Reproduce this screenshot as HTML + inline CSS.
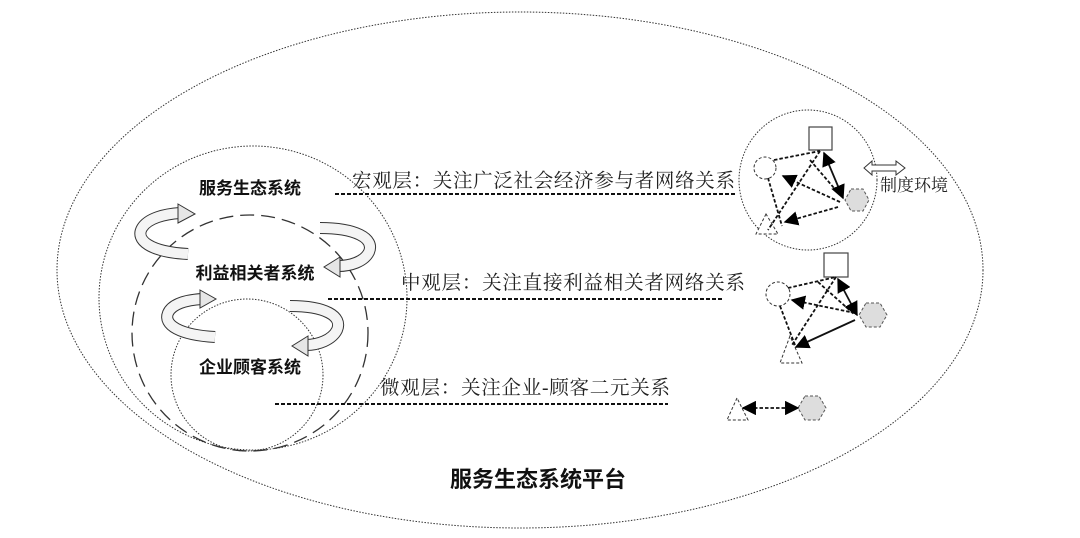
<!DOCTYPE html>
<html><head><meta charset="utf-8"><style>
html,body{margin:0;padding:0;background:#fff;width:1080px;height:538px;overflow:hidden}
svg{display:block}
text{font-family:"Liberation Serif","Noto Serif CJK SC","Noto Sans CJK SC",serif;fill:#222}
.b{font-family:"Liberation Sans","Noto Sans CJK SC",sans-serif;font-weight:bold;fill:#111}
</style></head><body>
<svg width="1080" height="538" viewBox="0 0 1080 538" xmlns="http://www.w3.org/2000/svg">
<defs>
<marker id="ah" viewBox="0 0 10 10" refX="9" refY="5" markerWidth="8" markerHeight="8" orient="auto-start-reverse"><path d="M0,0 L10,5 L0,10 z" fill="#000"/></marker>
</defs>
<g fill="none" stroke="#333" stroke-width="1" stroke-dasharray="1.5,1.5">
<ellipse cx="520" cy="270" rx="463" ry="258"/>
<ellipse cx="253" cy="298" rx="154" ry="152"/>
<ellipse cx="247" cy="375" rx="76" ry="76"/>
<ellipse cx="808" cy="180" rx="69" ry="70"/>
</g>
<ellipse cx="250" cy="333" rx="118" ry="118" fill="none" stroke="#333" stroke-width="1.3" stroke-dasharray="14,7"/>

<g stroke-linecap="butt">
<path d="M188,254 C150,252 135,240 142,228 C148,218 165,214 180,213" fill="none" stroke="#333" stroke-width="12"/>
<path d="M188,254 C150,252 135,240 142,228 C148,218 165,214 180,213" fill="none" stroke="#f4f4f4" stroke-width="10"/>
<polygon points="178,204 195,214 178,223" fill="#e6e6e6" stroke="#333"/>
<path d="M320,228 C355,228 375,238 369,252 C364,262 350,266 338,266" fill="none" stroke="#333" stroke-width="12"/>
<path d="M320,228 C355,228 375,238 369,252 C364,262 350,266 338,266" fill="none" stroke="#f4f4f4" stroke-width="10"/>
<polygon points="340,257 324,267 340,277" fill="#e6e6e6" stroke="#333"/>
<path d="M215,337 C180,335 163,325 168,313 C172,304 186,300 202,299" fill="none" stroke="#333" stroke-width="12"/>
<path d="M215,337 C180,335 163,325 168,313 C172,304 186,300 202,299" fill="none" stroke="#f4f4f4" stroke-width="10"/>
<polygon points="200,290 216,299 200,308" fill="#e6e6e6" stroke="#333"/>
<path d="M290,306 C325,306 343,316 337,330 C332,340 318,345 306,345" fill="none" stroke="#333" stroke-width="12"/>
<path d="M290,306 C325,306 343,316 337,330 C332,340 318,345 306,345" fill="none" stroke="#f4f4f4" stroke-width="10"/>
<polygon points="308,336 292,346 308,356" fill="#e6e6e6" stroke="#333"/>
</g>

<text class="b" x="250" y="194" font-size="17" text-anchor="middle">服务生态系统</text>
<text class="b" x="255" y="279" font-size="17" text-anchor="middle">利益相关者系统</text>
<text class="b" x="250" y="373" font-size="17" text-anchor="middle">企业顾客系统</text>
<text class="b" x="538" y="487" font-size="22" text-anchor="middle">服务生态系统平台</text>

<g stroke="#111" stroke-width="2" stroke-dasharray="4,2">
<line x1="335" y1="194" x2="735" y2="194"/>
<line x1="328" y1="299" x2="722" y2="299"/>
<line x1="275" y1="404" x2="668" y2="404"/>
</g>
<text x="352" y="187" font-size="19.5" textLength="383">宏观层：关注广泛社会经济参与者网络关系</text>
<text x="401" y="289" font-size="19.5" textLength="344">中观层：关注直接利益相关者网络关系</text>
<text x="380" y="394" font-size="19.5" textLength="290">微观层：关注企业-顾客二元关系</text>

<rect x="809" y="127" width="23" height="23" fill="#fff" stroke="#444" stroke-width="1.2"/>
<circle cx="765" cy="168" r="11" fill="#fff" stroke="#333" stroke-dasharray="3,2"/>
<polygon points="766,214 756,234 778,234" fill="#fff" stroke="#333" stroke-dasharray="3,2"/>
<polygon points="851,189 863,189 869,200 863,211 851,211 845,200" fill="#ddd" stroke="#555" stroke-dasharray="3,2"/>
<g fill="none" stroke="#111" stroke-width="1.8" stroke-dasharray="3.5,2">
<line x1="774" y1="160" x2="820" y2="151"/>
<line x1="820" y1="151" x2="768" y2="230"/>
<line x1="768" y1="178" x2="782" y2="226" />
<line x1="840" y1="202" x2="783" y2="176" marker-end="url(#ah)"/>
<line x1="838" y1="207" x2="785" y2="222" marker-end="url(#ah)"/>
<line x1="810" y1="160" x2="840" y2="195"/>
</g>
<line x1="824" y1="153" x2="843" y2="198" stroke="#111" stroke-width="1.8" marker-start="url(#ah)" marker-end="url(#ah)"/>
<path d="M864,168 L872,161 L872,165 L896,165 L896,161 L905,168 L896,175 L896,171 L872,171 L872,175 Z" fill="#fff" stroke="#333"/>
<text x="880" y="191" font-size="17">制度环境</text>

<rect x="824" y="253" width="24" height="24" fill="#fff" stroke="#444" stroke-width="1.2"/>
<circle cx="778" cy="294" r="12" fill="#fff" stroke="#333" stroke-dasharray="3,2"/>
<polygon points="790,336 780,363 802,363" fill="#fff" stroke="#333" stroke-dasharray="3,2"/>
<polygon points="866,303 880,303 887,315 880,327 866,327 859,315" fill="#ddd" stroke="#555" stroke-dasharray="3,2"/>
<g fill="none" stroke="#111" stroke-width="1.8" stroke-dasharray="3.5,2">
<line x1="788" y1="288" x2="836" y2="277"/>
<line x1="836" y1="277" x2="792" y2="345"/>
<line x1="780" y1="306" x2="795" y2="345"/>
<line x1="855" y1="313" x2="792" y2="300" marker-end="url(#ah)"/>
<line x1="818" y1="282" x2="855" y2="315"/>
</g>
<line x1="838" y1="279" x2="857" y2="315" stroke="#111" stroke-width="1.8" marker-start="url(#ah)" marker-end="url(#ah)"/>
<line x1="855" y1="320" x2="796" y2="347" stroke="#111" stroke-width="1.8" marker-end="url(#ah)"/>

<polygon points="737,398 727,420 748,420" fill="#fff" stroke="#333" stroke-dasharray="3,2"/>
<polygon points="805,396 819,396 826,408 819,420 805,420 798,408" fill="#ddd" stroke="#555" stroke-dasharray="3,2"/>
<line x1="743" y1="408" x2="798" y2="408" stroke="#111" stroke-width="1.8" stroke-dasharray="3.5,2" marker-start="url(#ah)" marker-end="url(#ah)"/>
</svg>
</body></html>
